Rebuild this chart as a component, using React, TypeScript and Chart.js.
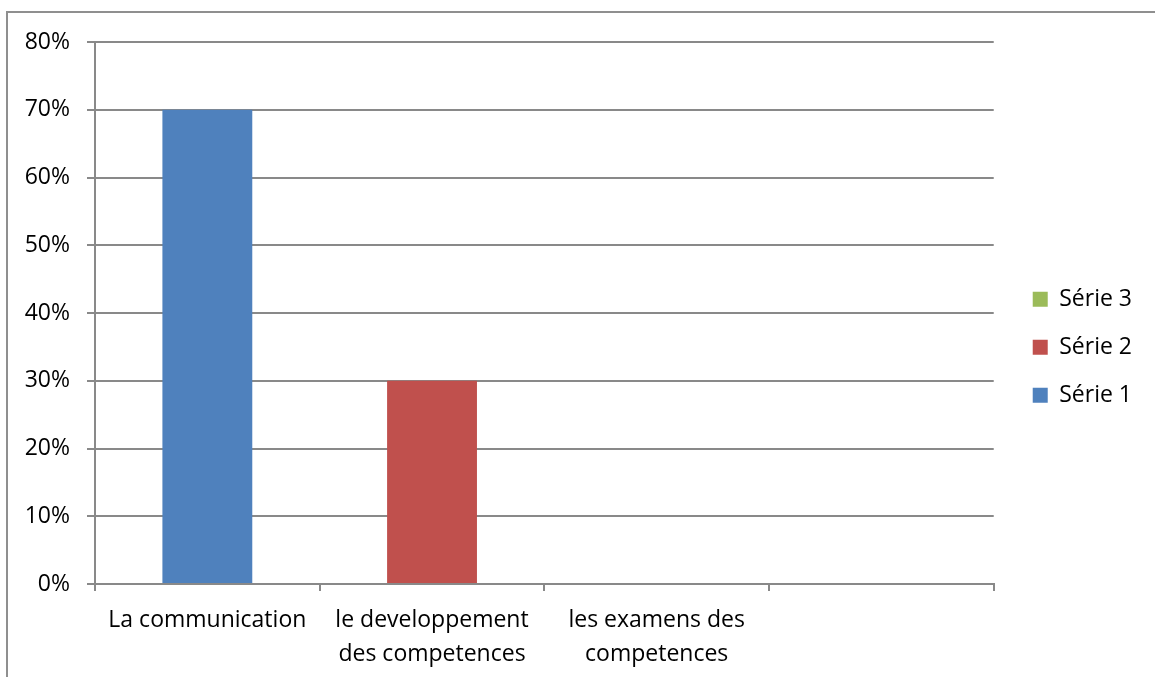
import React, { useEffect, useRef } from "react";
import { Chart, registerables } from "chart.js";

Chart.register(...registerables);

const categories: (string | string[])[] = [
  "La communication",
  ["le developpement", "des competences"],
  ["les examens des", "competences"],
  "",
];
const serie1: (number | null)[] = [0.7, null, null, null];
const serie2: (number | null)[] = [null, 0.3, null, null];
const serie3: (number | null)[] = [null, null, 0, null];
const yTicks: number[] = [0, 0.1, 0.2, 0.3, 0.4, 0.5, 0.6, 0.7, 0.8];

const FONT = "'Open Sans', 'Noto Sans', sans-serif";
const GRID = "#898989";

export default function App() {
  const ref = useRef<HTMLCanvasElement | null>(null);

  useEffect(() => {
    if (!ref.current) return;
    const chart = new Chart(ref.current, {
      type: "bar",
      data: {
        labels: categories,
        datasets: [
          { label: "Série 1", data: serie1, backgroundColor: "#4F81BD", borderWidth: 0 },
          { label: "Série 2", data: serie2, backgroundColor: "#C0504D", borderWidth: 0 },
          { label: "Série 3", data: serie3, backgroundColor: "#9BBB59", borderWidth: 0 },
        ],
      },
      options: {
        animation: false,
        responsive: false,
        devicePixelRatio: 1,
        layout: { padding: { left: 0, top: 17.5, right: 13, bottom: 0 } },
        datasets: { bar: { barPercentage: 0.4, categoryPercentage: 1 } },
        plugins: {
          legend: {
            position: "right",
            reverse: true,
            labels: {
              boxWidth: 15,
              boxHeight: 15,
              padding: 25,
              color: "#000",
              font: { family: FONT, size: 23 },
            },
          },
          tooltip: { enabled: false },
        },
        scales: {
          x: {
            stacked: true,
            grid: {
              display: true,
              drawOnChartArea: false,
              drawTicks: true,
              tickLength: 7,
              color: GRID,
              lineWidth: 2,
              offset: true,
            },
            border: { display: true, color: GRID, width: 2 },
            ticks: {
              color: "#000",
              padding: 12,
              maxRotation: 0,
              autoSkip: false,
              font: { family: FONT, size: 23, lineHeight: 1.5 },
            },
            afterFit: (s: any) => {
              s.height = 93;
            },
          },
          y: {
            stacked: true,
            min: 0,
            max: 0.8,
            afterBuildTicks: (s: any) => {
              s.ticks = yTicks.map((v) => ({ value: v }));
            },
            grid: { color: GRID, lineWidth: 2, tickLength: 8, drawTicks: true },
            border: { display: true, color: GRID, width: 2 },
            ticks: {
              color: "#000",
              padding: 17,
              font: { family: FONT, size: 23 },
              callback: (v: any) => Math.round(Number(v) * 100) + "%",
            },
            afterFit: (s: any) => {
              s.width = 95;
            },
          },
          gap: {
            type: "linear",
            position: "right",
            display: true,
            grid: { display: false },
            border: { display: false },
            ticks: { display: false },
            afterFit: (s: any) => {
              s.width = 14;
            },
          },
          gapTop: {
            type: "linear",
            position: "top",
            display: true,
            grid: { display: false },
            border: { display: false },
            ticks: { display: false },
            afterFit: (s: any) => {
              s.height = 24.5;
            },
          },
        },
      },
    } as any);
    return () => chart.destroy();
  }, []);

  return (
    <div style={{ position: "fixed", left: 0, top: 0, width: 1155, height: 677, overflow: "hidden", background: "#fff" }}>
      <div
        style={{
          position: "absolute",
          left: 6,
          top: 11,
          width: 2000,
          height: 2000,
          borderLeft: "2px solid #8f8f8f",
          borderTop: "2px solid #8f8f8f",
        }}
      />
      <canvas ref={ref} width={1155} height={677} style={{ position: "absolute", left: 0, top: 0, width: 1155, height: 677 }} />
    </div>
  );
}
